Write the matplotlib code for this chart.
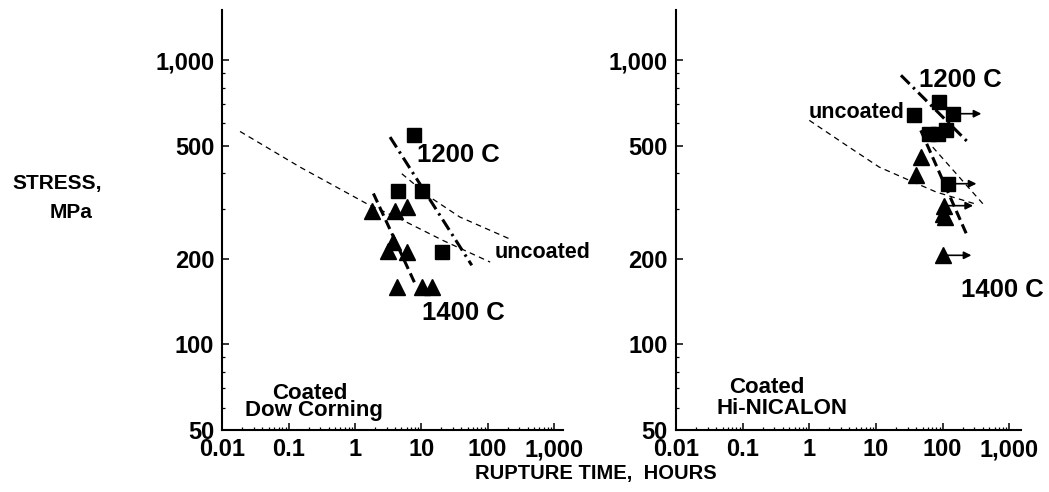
import matplotlib
matplotlib.use("Agg")
import matplotlib.pyplot as plt
from matplotlib.ticker import FixedLocator, NullFormatter
import numpy as np

plt.rcParams['font.family'] = ['Liberation Sans', 'DejaVu Sans']

# ---------------- data ----------------
# Left panel: Coated Dow Corning
dc_1200_time = [7.8, 4.5, 10.1, 20.3]
dc_1200_stress = [547, 348, 348, 211]
dc_1400_time = [1.79, 4.0, 6.0, 3.15, 3.74, 6.1, 4.25, 10.1, 14.4]
dc_1400_stress = [296, 296, 304, 214, 229, 212, 159, 159, 159]
dc_fit1200_time = [3.37, 57.6]
dc_fit1200_stress = [537, 190]
dc_fit1400_time = [1.89, 8.0]
dc_fit1400_stress = [340, 164]
dc_unc_lo_time = [0.0184, 0.148, 1.5, 5.35, 21.5, 109]
dc_unc_lo_stress = [562, 421, 313, 273, 232, 195]
dc_unc_hi_time = [5.07, 13.5, 38, 217]
dc_unc_hi_stress = [399, 330, 281, 235]

# Right panel: Coated Hi-NICALON
hn_1200_time = [37.5, 89, 141, 63, 84, 112, 119]
hn_1200_stress = [640, 713, 649, 552, 552, 567, 368]
hn_1200_runout = [False, False, True, False, False, False, True]
hn_1400_time = [47, 39.8, 106, 100, 110, 100]
hn_1400_stress = [457, 394, 308, 288, 280, 206]
hn_1400_runout = [False, False, True, False, False, True]
hn_fit1200_time = [23.7, 252]
hn_fit1200_stress = [886, 509]
hn_fit1400_time = [47, 238]
hn_fit1400_stress = [567, 239]
hn_unc_lo_time = [1.0, 3.95, 11.2, 28, 80, 300]
hn_unc_lo_stress = [615, 495, 421, 383, 344, 313]
hn_unc_hi_time = [71, 400]
hn_unc_hi_stress = [495, 313]

x_ticks = [0.01, 0.1, 1, 10, 100, 1000]
x_ticklabels = ['0.01', '0.1', '1', '10', '100', '1,000']
y_ticks = [50, 100, 200, 500, 1000]
y_ticklabels = ['50', '100', '200', '500', '1,000']
y_minor = [60, 70, 80, 90, 300, 400, 600, 700, 800, 900]

# ---------------- figure ----------------
fig = plt.figure(figsize=(10.49, 4.92), dpi=100)
axL = fig.add_axes([0.2121, 0.126, 0.3246, 0.854])
axR = fig.add_axes([0.6444, 0.126, 0.3286, 0.854])

ARROW_FACTOR = 2.7
DASHDOT = (0, (4.0, 1.6, 0.8, 1.6))
DASHED = (0, (3.2, 1.6))
THIN = (0, (4.5, 3.5))


def style_axes(ax, xmax):
    ax.set_xscale('log')
    ax.set_yscale('log')
    ax.set_xlim(0.01, xmax)
    ax.set_ylim(50, 1506)
    for s in ['top', 'right']:
        ax.spines[s].set_visible(False)
    for s in ['left', 'bottom']:
        ax.spines[s].set_linewidth(1.5)
    ax.xaxis.set_major_locator(FixedLocator(x_ticks))
    ax.set_xticklabels(x_ticklabels)
    xm = []
    for d in x_ticks:
        xm += [d * k for k in range(2, 10)]
    ax.xaxis.set_minor_locator(FixedLocator(xm))
    ax.xaxis.set_minor_formatter(NullFormatter())
    ax.yaxis.set_major_locator(FixedLocator(y_ticks))
    ax.set_yticklabels(y_ticklabels)
    ax.yaxis.set_minor_locator(FixedLocator(y_minor))
    ax.yaxis.set_minor_formatter(NullFormatter())
    ax.tick_params(which='major', direction='in', length=5, width=1.1,
                   labelsize=17, pad=6)
    ax.tick_params(which='minor', direction='in', length=2.5, width=0.9)
    for lab in ax.get_xticklabels() + ax.get_yticklabels():
        lab.set_fontweight('bold')


style_axes(axL, 1370)
style_axes(axR, 1480)

TXT = dict(fontweight='bold', va='center')

# ----- left panel -----
axL.plot(dc_unc_lo_time, dc_unc_lo_stress, color='black', lw=0.9, ls=THIN, zorder=2)
axL.plot(dc_unc_hi_time, dc_unc_hi_stress, color='black', lw=0.9, ls=THIN, zorder=2)
axL.plot(dc_fit1200_time, dc_fit1200_stress, color='black', lw=2.2, ls=DASHDOT, zorder=2)
axL.plot(dc_fit1400_time, dc_fit1400_stress, color='black', lw=2.2, ls=DASHED, zorder=2)
axL.plot(dc_1200_time, dc_1200_stress, ls='none', marker='s', ms=10, color='black', zorder=3)
axL.plot(dc_1400_time, dc_1400_stress, ls='none', marker='^', ms=12, color='black', zorder=3)

axL.text(8.6, 463, '1200 C', fontsize=18.5, ha='left', **TXT)
axL.text(10.1, 128.6, '1400 C', fontsize=18.5, ha='left', **TXT)
axL.text(129, 211, 'uncoated', fontsize=15.5, ha='left', **TXT)
axL.text(0.21, 67, 'Coated', fontsize=16, ha='center', **TXT)
axL.text(0.0218, 58.6, 'Dow Corning', fontsize=16, ha='left', **TXT)

# ----- right panel -----
axR.plot(hn_unc_lo_time, hn_unc_lo_stress, color='black', lw=0.9, ls=THIN, zorder=2)
axR.plot(hn_unc_hi_time, hn_unc_hi_stress, color='black', lw=0.9, ls=THIN, zorder=2)
axR.plot(hn_fit1200_time, hn_fit1200_stress, color='black', lw=2.2, ls=DASHDOT, zorder=2)
axR.plot(hn_fit1400_time, hn_fit1400_stress, color='black', lw=2.2, ls=DASHED, zorder=2)
axR.plot(hn_1200_time, hn_1200_stress, ls='none', marker='s', ms=10, color='black', zorder=3)
axR.plot(hn_1400_time, hn_1400_stress, ls='none', marker='^', ms=12, color='black', zorder=3)

for t, s, r in list(zip(hn_1200_time, hn_1200_stress, hn_1200_runout)) + \
        list(zip(hn_1400_time, hn_1400_stress, hn_1400_runout)):
    if r:
        axR.annotate('', xy=(t * ARROW_FACTOR, s), xytext=(t, s),
                     arrowprops=dict(arrowstyle='-|>', lw=1.2, color='black',
                                     mutation_scale=11, shrinkA=0, shrinkB=0),
                     zorder=2)

axR.text(44.6, 850, '1200 C', fontsize=18.5, ha='left', **TXT)
axR.text(26.5, 658, 'uncoated', fontsize=15.5, ha='right', **TXT)
axR.text(189, 155, '1400 C', fontsize=18.5, ha='left', **TXT)
axR.text(0.231, 70.7, 'Coated', fontsize=16, ha='center', **TXT)
axR.text(0.0408, 59.6, 'Hi-NICALON', fontsize=16, ha='left', **TXT)

# ----- axis titles -----
fig.text(596 / 1049, 1 - 473 / 492, 'RUPTURE TIME,  HOURS', fontsize=14.5,
         fontweight='bold', ha='center', va='center')
fig.text(12 / 1049, 1 - 183 / 492, 'STRESS,', fontsize=15, fontweight='bold',
         ha='left', va='center')
fig.text(50 / 1049, 1 - 212 / 492, 'MPa', fontsize=15, fontweight='bold',
         ha='left', va='center')

fig.savefig('out.png', dpi=100)
